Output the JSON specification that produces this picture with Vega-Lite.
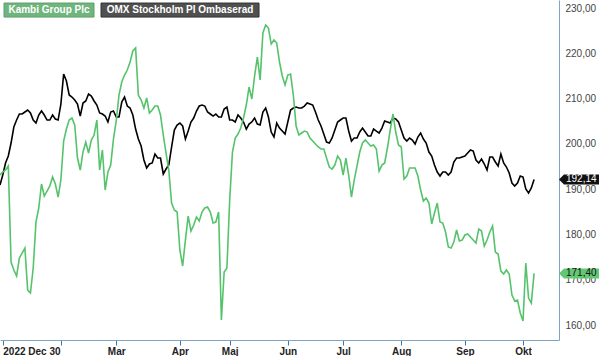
{
"$schema": "https://vega.github.io/schema/vega-lite/v6.json",
"width": 559,
"height": 340,
"padding": 0,
"background": "white",
"config": {"view": {"stroke": null}, "font": "Liberation Sans"},
"data": {"values": [
{"d":0,"k":193.13,"o":190.92},{"d":1,"k":193.79,"o":193.13},{"d":2,"k":194.23,"o":195.78},{"d":3,"k":195.11,"o":197.32},{"d":4,"k":173.92,"o":200.19},{"d":5,"k":172.15,"o":203.72},{"d":6,"k":170.83,"o":205.27},{"d":7,"k":174.80,"o":206.60},{"d":8,"k":175.90,"o":206.60},{"d":9,"k":177.00,"o":207.04},
{"d":10,"k":167.73,"o":207.48},{"d":11,"k":167.07,"o":206.82},{"d":12,"k":172.59,"o":205.27},{"d":13,"k":182.75,"o":204.61},{"d":14,"k":185.84,"o":206.37},{"d":15,"k":191.14,"o":207.26},{"d":16,"k":188.49,"o":206.37},{"d":17,"k":189.59,"o":205.27},{"d":18,"k":190.70,"o":205.27},{"d":19,"k":192.69,"o":206.37},
{"d":20,"k":191.14,"o":205.49},{"d":21,"k":188.27,"o":205.27},{"d":22,"k":192.02,"o":208.80},{"d":23,"k":200.63,"o":215.43},{"d":24,"k":203.28,"o":213.88},{"d":25,"k":205.27,"o":210.79},{"d":26,"k":205.71,"o":210.35},{"d":27,"k":204.17,"o":209.69},{"d":28,"k":196.88,"o":208.80},{"d":29,"k":194.23,"o":206.15},
{"d":30,"k":198.21,"o":209.02},{"d":31,"k":200.41,"o":209.47},{"d":32,"k":197.98,"o":211.01},{"d":33,"k":200.85,"o":210.57},{"d":34,"k":201.96,"o":209.47},{"d":35,"k":205.27,"o":208.58},{"d":36,"k":194.23,"o":206.82},{"d":37,"k":198.65,"o":206.60},{"d":38,"k":189.81,"o":206.15},{"d":39,"k":193.79,"o":204.83},
{"d":40,"k":195.33,"o":207.04},{"d":41,"k":201.07,"o":207.26},{"d":42,"k":205.05,"o":205.93},{"d":43,"k":210.79,"o":205.93},{"d":44,"k":213.66,"o":209.24},{"d":45,"k":215.21,"o":210.35},{"d":46,"k":216.31,"o":208.36},{"d":47,"k":218.08,"o":207.92},{"d":48,"k":220.51,"o":206.37},{"d":49,"k":221.17,"o":203.28},
{"d":50,"k":210.79,"o":201.07},{"d":51,"k":209.69,"o":199.53},{"d":52,"k":207.92,"o":196.44},{"d":53,"k":210.13,"o":194.67},{"d":54,"k":206.81,"o":195.56},{"d":55,"k":207.48,"o":195.78},{"d":56,"k":208.36,"o":197.77},{"d":57,"k":208.36,"o":196.88},{"d":58,"k":206.37,"o":196.88},{"d":59,"k":201.96,"o":193.35},
{"d":60,"k":197.98,"o":194.45},{"d":61,"k":194.23,"o":195.33},{"d":62,"k":186.94,"o":199.31},{"d":63,"k":185.40,"o":203.06},{"d":64,"k":184.96,"o":204.17},{"d":65,"k":176.57,"o":204.61},{"d":66,"k":173.03,"o":203.95},{"d":67,"k":178.77,"o":201.07},{"d":68,"k":184.07,"o":202.84},{"d":69,"k":180.76,"o":204.83},
{"d":70,"k":182.09,"o":205.71},{"d":71,"k":183.85,"o":207.26},{"d":72,"k":182.97,"o":208.36},{"d":73,"k":184.96,"o":208.58},{"d":74,"k":185.84,"o":208.36},{"d":75,"k":186.06,"o":207.04},{"d":76,"k":184.96,"o":206.60},{"d":77,"k":182.53,"o":206.15},{"d":78,"k":182.75,"o":206.60},{"d":79,"k":184.96,"o":205.93},
{"d":80,"k":161.11,"o":205.93},{"d":81,"k":171.71,"o":207.70},{"d":82,"k":172.59,"o":208.14},{"d":83,"k":187.61,"o":205.27},{"d":84,"k":198.21,"o":205.27},{"d":85,"k":201.30,"o":204.83},{"d":86,"k":202.18,"o":206.37},{"d":87,"k":203.50,"o":205.71},{"d":88,"k":205.71,"o":204.83},{"d":89,"k":208.58,"o":203.28},
{"d":90,"k":212.56,"o":204.39},{"d":91,"k":209.91,"o":204.83},{"d":92,"k":214.99,"o":205.71},{"d":93,"k":219.18,"o":204.39},{"d":94,"k":214.10,"o":204.17},{"d":95,"k":224.48,"o":207.04},{"d":96,"k":226.25,"o":207.92},{"d":97,"k":225.58,"o":205.93},{"d":98,"k":222.05,"o":202.62},{"d":99,"k":222.93,"o":201.52},
{"d":100,"k":222.27,"o":204.61},{"d":101,"k":218.08,"o":203.50},{"d":102,"k":214.99,"o":202.84},{"d":103,"k":213.00,"o":202.18},{"d":104,"k":215.21,"o":204.83},{"d":105,"k":215.43,"o":207.48},{"d":106,"k":210.79,"o":207.92},{"d":107,"k":203.94,"o":208.14},{"d":108,"k":201.96,"o":207.92},{"d":109,"k":202.40,"o":207.92},
{"d":110,"k":202.84,"o":208.36},{"d":111,"k":202.62,"o":209.02},{"d":112,"k":201.30,"o":208.80},{"d":113,"k":200.63,"o":208.58},{"d":114,"k":199.97,"o":207.04},{"d":115,"k":199.31,"o":205.27},{"d":116,"k":198.87,"o":203.95},{"d":117,"k":198.87,"o":202.18},{"d":118,"k":196.88,"o":200.41},{"d":119,"k":194.89,"o":200.19},
{"d":120,"k":194.45,"o":201.30},{"d":121,"k":195.33,"o":203.06},{"d":122,"k":197.32,"o":204.83},{"d":123,"k":196.44,"o":205.27},{"d":124,"k":193.13,"o":205.71},{"d":125,"k":196.88,"o":205.71},{"d":126,"k":193.13,"o":202.84},{"d":127,"k":188.27,"o":200.63},{"d":128,"k":192.02,"o":201.30},{"d":129,"k":195.11,"o":201.30},
{"d":130,"k":198.21,"o":202.62},{"d":131,"k":200.19,"o":203.50},{"d":132,"k":200.85,"o":202.62},{"d":133,"k":200.19,"o":201.74},{"d":134,"k":199.53,"o":201.74},{"d":135,"k":199.75,"o":203.28},{"d":136,"k":198.87,"o":202.84},{"d":137,"k":194.01,"o":202.40},{"d":138,"k":195.33,"o":203.50},{"d":139,"k":195.78,"o":205.05},
{"d":140,"k":199.09,"o":204.83},{"d":141,"k":203.06,"o":204.61},{"d":142,"k":206.60,"o":205.71},{"d":143,"k":202.62,"o":205.49},{"d":144,"k":199.75,"o":204.83},{"d":145,"k":199.31,"o":203.06},{"d":146,"k":192.24,"o":201.30},{"d":147,"k":192.91,"o":200.63},{"d":148,"k":194.67,"o":201.30},{"d":149,"k":194.67,"o":200.85},
{"d":150,"k":194.67,"o":199.97},{"d":151,"k":192.91,"o":201.52},{"d":152,"k":189.81,"o":202.40},{"d":153,"k":187.39,"o":201.07},{"d":154,"k":188.05,"o":200.19},{"d":155,"k":186.94,"o":198.20},{"d":156,"k":182.31,"o":197.32},{"d":157,"k":184.74,"o":195.33},{"d":158,"k":186.94,"o":193.79},{"d":159,"k":182.75,"o":192.91},
{"d":160,"k":182.53,"o":193.79},{"d":161,"k":180.54,"o":193.79},{"d":162,"k":177.23,"o":193.13},{"d":163,"k":177.01,"o":193.79},{"d":164,"k":178.33,"o":196.00},{"d":165,"k":180.98,"o":196.88},{"d":166,"k":178.55,"o":196.88},{"d":167,"k":178.77,"o":197.10},{"d":168,"k":179.88,"o":197.32},{"d":169,"k":180.10,"o":197.98},
{"d":170,"k":179.44,"o":198.65},{"d":171,"k":178.77,"o":198.43},{"d":172,"k":178.11,"o":196.44},{"d":173,"k":181.20,"o":195.78},{"d":174,"k":180.76,"o":196.66},{"d":175,"k":177.45,"o":195.56},{"d":176,"k":178.77,"o":194.23},{"d":177,"k":180.54,"o":197.10},{"d":178,"k":181.87,"o":197.10},{"d":179,"k":176.12,"o":196.00},
{"d":180,"k":175.68,"o":195.11},{"d":181,"k":171.93,"o":197.77},{"d":182,"k":171.27,"o":195.78},{"d":183,"k":172.15,"o":194.89},{"d":184,"k":171.27,"o":193.57},{"d":185,"k":166.63,"o":191.36},{"d":186,"k":165.31,"o":190.70},{"d":187,"k":165.53,"o":191.36},{"d":188,"k":162.66,"o":192.91},{"d":189,"k":160.89,"o":192.69},
{"d":190,"k":173.70,"o":190.04},{"d":191,"k":165.97,"o":189.15},{"d":192,"k":164.86,"o":190.26},{"d":193,"k":171.40,"o":192.14}
]},
"layer": [
{"mark": {"type": "line", "color": "#000000", "strokeWidth": 1.6, "clip": true},
 "encoding": {
  "x": {"field": "d", "type": "quantitative", "title": null,
   "scale": {"domain": [0, 202], "nice": false, "zero": false},
   "axis": {"title": null, "values": [1,22,42,65,83,104,124,145,168,189],
    "labelExpr": "datum.value==1?'2022 Dec 30':datum.value==42?'Mar':datum.value==65?'Apr':datum.value==83?'Maj':datum.value==104?'Jun':datum.value==124?'Jul':datum.value==145?'Aug':datum.value==168?'Sep':datum.value==189?'Okt':''",
    "grid": false, "domainColor": "#7ea3c4", "tickColor": "#3d77a3", "tickSize": 5,
    "labelFontWeight": "bold", "labelFontSize": 10, "labelColor": "#222222", "labelFont": "Liberation Sans",
    "labelFlush": 5, "labelOverlap": false, "labelPadding": 1}},
  "y": {"field": "o", "type": "quantitative", "title": null,
   "scale": {"domain": [156.7, 231.77], "nice": false, "zero": false},
   "axis": {"title": null, "orient": "right", "values": [160,170,180,190,200,210,220,230],
    "labelExpr": "replace(format(datum.value,'.2f'),'.',',')",
    "grid": false, "ticks": false, "domainColor": "#7ea3c4", "labelPadding": 6,
    "labelFontSize": 10, "labelColor": "#444444", "labelFont": "Liberation Sans"}}
 }},
{"mark": {"type": "line", "color": "#55c36b", "strokeWidth": 1.6, "clip": true},
 "encoding": {
  "x": {"field": "d", "type": "quantitative", "title": null},
  "y": {"field": "k", "type": "quantitative", "title": null}
 }},
{"transform": [{"filter": "datum.d == 193"}, {"calculate": "replace(format(datum.o,'.2f'),'.',',')", "as": "lab"}],
 "layer": [
  {"mark": {"type": "point", "shape": "M0,0L5,-5L40,-5L40,5L5,5Z", "size": 4, "filled": true, "fill": "#111111", "opacity": 1, "strokeWidth": 0},
   "encoding": {"x": {"datum": 202}, "y": {"field": "o", "type": "quantitative", "title": null}}},
  {"mark": {"type": "text", "align": "left", "baseline": "middle", "dx": 7, "fontSize": 10, "color": "#ffffff", "font": "Liberation Sans"},
   "encoding": {"x": {"datum": 202}, "y": {"field": "o", "type": "quantitative", "title": null}, "text": {"field": "lab"}}}
 ]},
{"transform": [{"filter": "datum.d == 193"}, {"calculate": "replace(format(datum.k,'.2f'),'.',',')", "as": "lab"}],
 "layer": [
  {"mark": {"type": "point", "shape": "M0,0L5,-5L40,-5L40,5L5,5Z", "size": 4, "filled": true, "fill": "#62c873", "opacity": 1, "strokeWidth": 0},
   "encoding": {"x": {"datum": 202}, "y": {"field": "k", "type": "quantitative", "title": null}}},
  {"mark": {"type": "text", "align": "left", "baseline": "middle", "dx": 7, "fontSize": 10, "color": "#111111", "font": "Liberation Sans"},
   "encoding": {"x": {"datum": 202}, "y": {"field": "k", "type": "quantitative", "title": null}, "text": {"field": "lab"}}}
 ]},
{"data": {"values": [{"t": "Kambi Group Plc"}]},
 "layer": [
  {"mark": {"type": "rect", "fill": "#6fb57d", "stroke": "#5e9f6b", "strokeWidth": 1},
   "encoding": {"x": {"datum": 1.45}, "x2": {"datum": 33.97}, "y": {"datum": 231.1}, "y2": {"datum": 228.0}}},
  {"mark": {"type": "text", "align": "center", "baseline": "middle", "fontSize": 10, "fontWeight": "bold", "color": "#ffffff", "font": "Liberation Sans"},
   "encoding": {"x": {"datum": 17.7}, "y": {"datum": 229.56}, "text": {"field": "t"}}}
 ]},
{"data": {"values": [{"t": "OMX Stockholm PI Ombaserad"}]},
 "layer": [
  {"mark": {"type": "rect", "fill": "#505050", "stroke": "#333333", "strokeWidth": 1},
   "encoding": {"x": {"datum": 36.5}, "x2": {"datum": 93.6}, "y": {"datum": 231.1}, "y2": {"datum": 228.0}}},
  {"mark": {"type": "text", "align": "center", "baseline": "middle", "fontSize": 10, "fontWeight": "bold", "color": "#ffffff", "font": "Liberation Sans"},
   "encoding": {"x": {"datum": 65.05}, "y": {"datum": 229.56}, "text": {"field": "t"}}}
 ]}
]
}
